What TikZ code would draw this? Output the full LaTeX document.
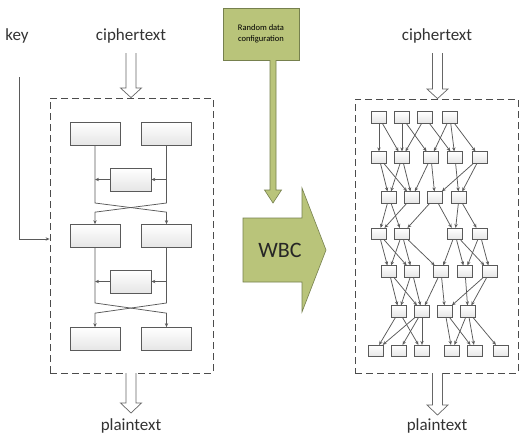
\documentclass[tikz,border=0pt]{standalone}
\usepackage{fontspec}
\setmainfont{Carlito}
\usetikzlibrary{arrows.meta,calc}
\definecolor{ln}{HTML}{5A5A5A}
\definecolor{olivefill}{RGB}{185,196,122}
\definecolor{olivedark}{RGB}{118,128,78}
\begin{document}
\begin{tikzpicture}[x=1pt,y=-1pt,
  lbl/.style={font=\fontsize{17}{19}\selectfont, text=black!80, inner sep=0},
  fbox/.style={draw=ln, line width=0.7pt, top color=white, bottom color=black!10, minimum width=50pt, minimum height=23pt, inner sep=0},
  fnbox/.style={fbox, minimum width=41pt},
  nbox/.style={fbox, minimum width=15pt, minimum height=11.5pt},
  arr/.style={draw=ln, line width=0.75pt, -{Stealth[length=4pt,width=3.4pt]}},
  frame/.style={draw=black!70, line width=0.8pt, dash pattern=on 7pt off 4pt, inner sep=0},
  hollow/.style={draw=black!60, line width=0.7pt, fill=white},
  greenshape/.style={draw=olivedark, line width=0.6pt, fill=olivefill},
]
\useasboundingbox (0,0) rectangle (520,434);
\fill[white] (0,0) rectangle (520,434);

% ---------- labels ----------
\node[lbl] (key) at (17,36) {key};
\node[lbl] (ctL) at (131,36) {ciphertext};
\node[lbl] (ctR) at (437,36) {ciphertext};
\node[lbl] (ptL) at (131,426) {plaintext};
\node[lbl] (ptR) at (437,426) {plaintext};

% ---------- frames ----------
\node[frame, minimum width=163pt, minimum height=275pt] (frL) at (131.5,235.5) {};
\node[frame, minimum width=163pt, minimum height=274pt] (frR) at (436.5,236) {};

% ---------- hollow arrows ----------
\draw[hollow] (126,53) -- (126,88) -- (120.5,88) -- (frL.north -| 131,0) -- (141.5,88) -- (136,88) -- (136,53);
\draw[hollow] (432.5,53) -- (432.5,89) -- (427,89) -- (frR.north -| 437.5,0) -- (448,89) -- (442.5,89) -- (442.5,53);
\draw[hollow] (126,373) -- (126,403) -- (120.5,403) -- (131,413) -- (141.5,403) -- (136,403) -- (136,373);
\draw[hollow] (432.5,373) -- (432.5,405) -- (427,405) -- (437.5,415) -- (448,405) -- (442.5,405) -- (442.5,373);

% ---------- key line ----------
\coordinate (k0) at (19,77);
\coordinate (kin) at (frL.west |- 0,239);
\draw[arr] (k0) |- (kin);

% ---------- Feistel structure ----------
\node[fbox] (L1) at (95,133.5) {};
\node[fbox] (R1) at (166.5,133.5) {};
\node[fnbox] (F1) at (130.5,179.5) {};
\node[fbox] (L2) at (95,236) {};
\node[fbox] (R2) at (166.5,236) {};
\node[fnbox] (F2) at (130.5,281.5) {};
\node[fbox] (L3) at (95,339) {};
\node[fbox] (R3) at (166.5,339) {};

\draw[arr] (L1.south) -- (L1.south |- 0,203) -- ($(R2.north)+(0,-12)$) -- (R2.north);
\draw[arr] (R1.south) -- (R1.south |- 0,203) -- ($(L2.north)+(0,-12)$) -- (L2.north);
\draw[arr] (R1.south |- F1.east) -- (F1.east);
\draw[arr] (F1.west) -- (L1.south |- F1.west);

\draw[arr] (L2.south) -- (L2.south |- 0,303) -- ($(R3.north)+(0,-14)$) -- (R3.north);
\draw[arr] (R2.south) -- (R2.south |- 0,303) -- ($(L3.north)+(0,-14)$) -- (L3.north);
\draw[arr] (R2.south |- F2.east) -- (F2.east);
\draw[arr] (F2.west) -- (L2.south |- F2.west);

% ---------- middle: random data + WBC ----------
\node[greenshape, minimum width=76pt, minimum height=52pt, align=center, inner sep=1pt,
      font=\fontsize{8.5}{10.5}\selectfont] (rdc) at (261,34) {Random data\\configuration};
\draw[greenshape] (270,60) -- (270,190) -- (264.5,190) -- (273,203) -- (281.5,190) -- (276,190) -- (276,60);
\draw[greenshape] (243,218) -- (302,218) -- (302,188) -- (326,250) -- (302,312) -- (302,282) -- (243,282) -- cycle;
\node[font=\fontsize{22}{24}\selectfont, text=black!85] (wbc) at (280,250) {WBC};

% ---------- white-box network ----------
\foreach \n/\x in {A1/379,A2/402,A3/425,A4/450} \node[nbox] (\n) at (\x,117.5) {};
\foreach \n/\x in {B1/379,B2/402,B3/431,B4/455,B5/480} \node[nbox] (\n) at (\x,157.5) {};
\foreach \n/\x in {C1/389,C2/412,C3/435,C4/459} \node[nbox] (\n) at (\x,197.5) {};
\foreach \n/\x in {D1/379,D2/402,D3/455,D4/480} \node[nbox] (\n) at (\x,234) {};
\foreach \n/\x in {E1/389,E2/412,E3/441,E4/465,E5/490} \node[nbox] (\n) at (\x,271.5) {};
\foreach \n/\x in {F1n/399,F2n/422,F3n/445,F4n/468} \node[nbox] (\n) at (\x,311.5) {};
\foreach \n/\x in {G1/375.5,G2/399,G3/422,G4/452,G5/475,G6/501} \node[nbox] (\n) at (\x,351) {};

\foreach \s/\t in {A1/B1,A1/B2,A2/B2,A2/B3,A3/B2,A3/B4,A4/B3,A4/B4,A4/B5,
                   B1/C1,B1/C2,B2/C1,B2/C2,B3/C2,B3/C3,B4/C4,B5/C3,B5/C4,
                   C1/D1,C1/D2,C2/D1,C3/D2,C3/D3,C4/D3,C4/D4,
                   D1/E1,D1/E2,D2/E1,D2/E2,D2/E3,D3/E3,D3/E4,D3/E5,D4/E4,D4/E5,
                   E1/F1n,E1/F2n,E2/F1n,E2/F2n,E3/F2n,E3/F3n,E4/F4n,E5/F3n,E5/F4n,
                   F1n/G1,F1n/G3,F2n/G1,F2n/G2,F2n/G3,F3n/G4,F3n/G5,F4n/G4,F4n/G5,F4n/G6}
  \draw[arr] (\s) -- (\t);
\end{tikzpicture}
\end{document}
